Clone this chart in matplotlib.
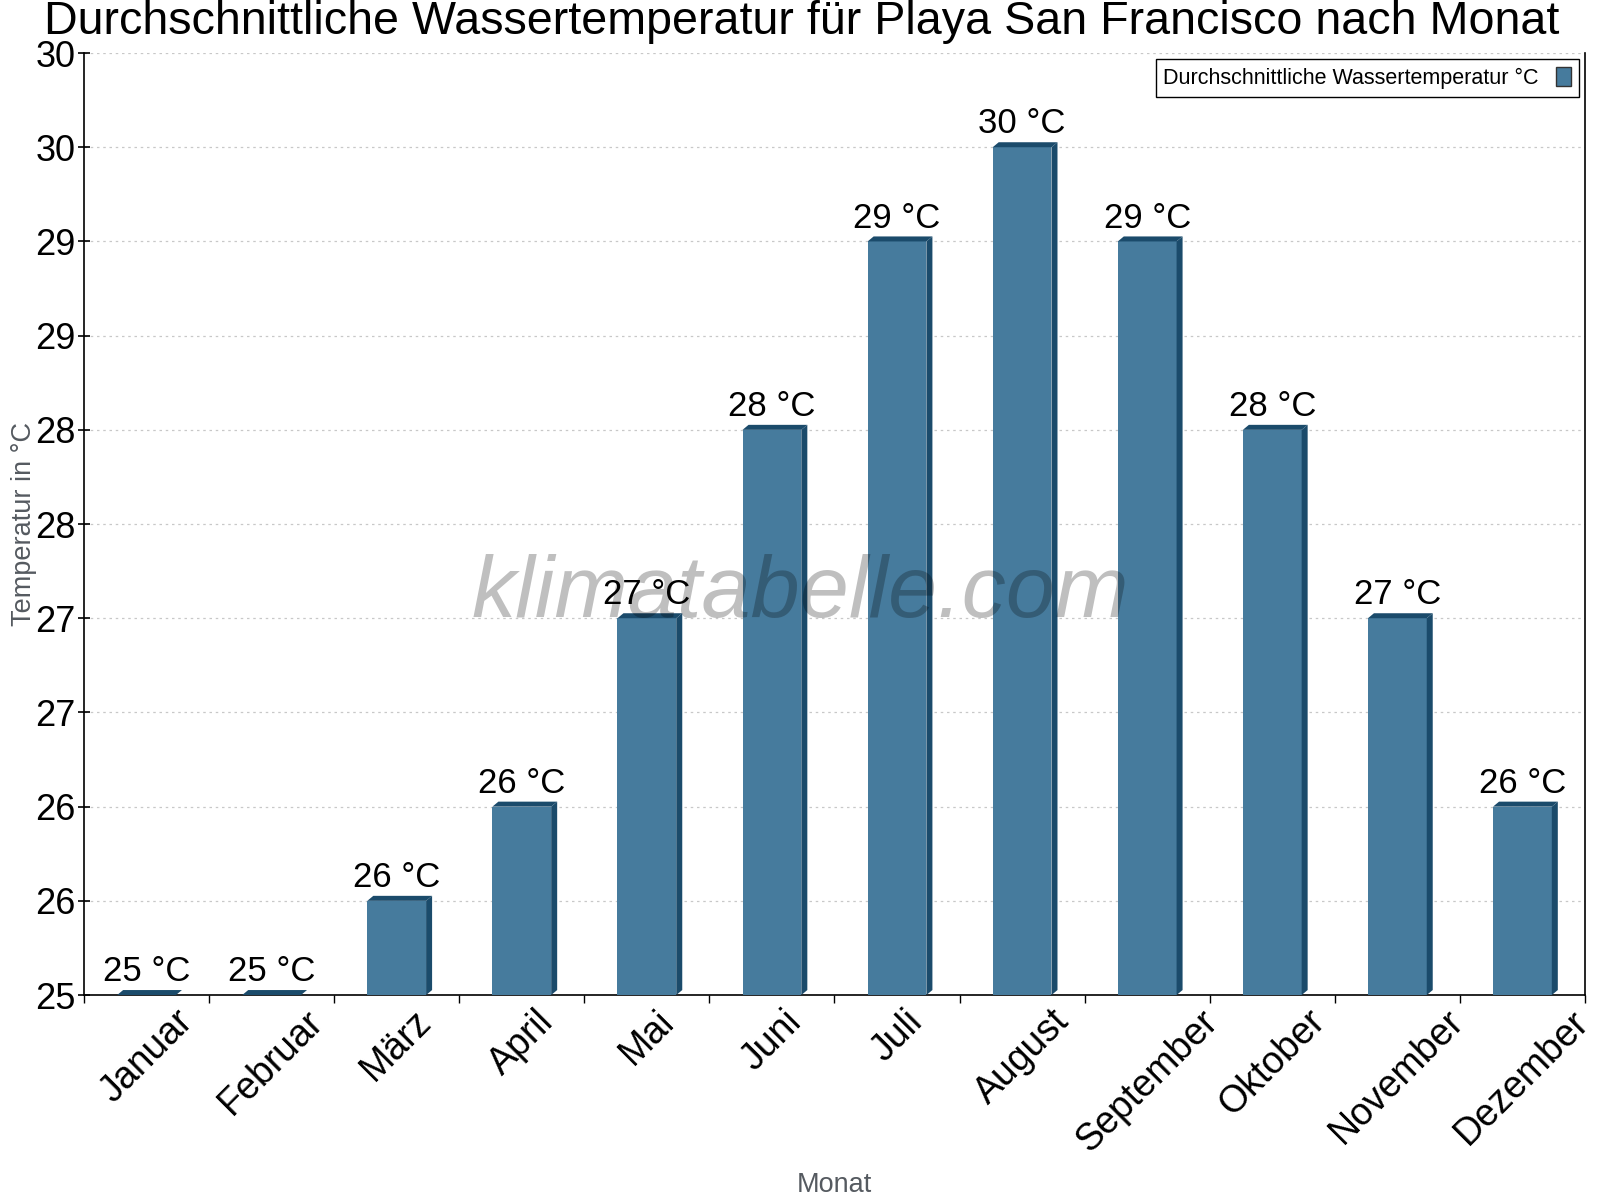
import matplotlib
matplotlib.use("Agg")
import matplotlib.pyplot as plt
from matplotlib.patches import Polygon, Patch

# data
months = ["Januar", "Februar", "März", "April", "Mai", "Juni", "Juli",
          "August", "September", "Oktober", "November", "Dezember"]
temps = [25, 25, 25.5, 26, 27, 28, 29, 29.5, 29, 28, 27, 26]
ytick_values = [25, 25.5, 26, 26.5, 27, 27.5, 28, 28.5, 29, 29.5, 30]
ytick_labels = ["25", "26", "26", "27", "27", "28", "28", "29", "29", "30", "30"]

FRONT = "#467b9d"
DARK = "#1b4b6b"
GREY = "#555a60"

plt.rcParams["font.family"] = ["Liberation Sans", "DejaVu Sans"]

fig = plt.figure(figsize=(16, 12), dpi=100)
ax = fig.add_axes([0.0525, 0.1708, 0.9381, 0.785])
ax.set_xlim(-0.5, 11.5)
ax.set_ylim(25, 30)

x = list(range(len(months)))
bar_w = 0.47
ymin = 25
ax.bar(x, [t - ymin for t in temps], bottom=ymin, width=bar_w,
       color=FRONT, zorder=3)

# 3d look: depth of about 6 px right, 5 px up
p0 = ax.transData.transform((0, 25))
p1 = ax.transData.transform((1, 26))
dx = 6 / (p1[0] - p0[0])
dy = 5 / (p1[1] - p0[1])
for xi, t in zip(x, temps):
    x0 = xi - bar_w / 2
    x1 = xi + bar_w / 2
    ax.add_patch(Polygon([(x0, t), (x1, t), (x1 + dx, t + dy), (x0 + dx, t + dy)],
                         closed=True, color=DARK, zorder=3, clip_on=False, lw=0))
    ax.add_patch(Polygon([(x1, ymin), (x1 + dx, ymin + dy), (x1 + dx, t + dy), (x1, t)],
                         closed=True, color=DARK, zorder=3, clip_on=False, lw=0))
    ax.annotate(f"{int(t + 0.5)} °C", (xi, t), xytext=(0, 10),
                textcoords="offset points", ha="center", va="baseline",
                fontsize=25, zorder=5)

ax.text(0.477, 0.425, "klimatabelle.com", transform=ax.transAxes,
        ha="center", va="center", fontsize=63.5, style="italic",
        color="black", alpha=0.25, zorder=4)

ax.set_yticks(ytick_values, ytick_labels)
ax.tick_params(axis="y", direction="inout", length=8, width=1.2,
               labelsize=26, pad=2)
ax.set_xticks(x, months, rotation=45, ha="center", va="top")
ax.tick_params(axis="x", which="major", length=0, labelsize=27, pad=6)
ax.set_xticks([i - 0.5 for i in range(len(months) + 1)], minor=True)
ax.tick_params(axis="x", which="minor", length=6, width=1.0, direction="out")

ax.yaxis.grid(True, linestyle=(0, (2, 3)), color="#c8c8c8", linewidth=0.9)
ax.set_axisbelow(True)

ax.spines["top"].set_visible(False)
for s in ["left", "bottom", "right"]:
    ax.spines[s].set_linewidth(1.2)

ax.set_ylabel("Temperatur in °C", fontsize=19.5, color=GREY)
ax.yaxis.set_label_coords(-0.031, 0.5)
ax.set_xlabel("Monat", fontsize=19.5, color=GREY)
ax.xaxis.set_label_coords(0.5, -0.188)

leg = ax.legend(handles=[Patch(facecolor=FRONT, edgecolor="#333333",
                               label="Durchschnittliche Wassertemperatur °C")],
                loc="upper right", markerfirst=False, fancybox=False,
                framealpha=1, edgecolor="black", fontsize=15.5,
                handlelength=0.7, handleheight=1.0, borderaxespad=0.3,
                borderpad=0.35, handletextpad=0.8)
leg.get_frame().set_linewidth(1.0)

fig.text(0.501, 0.982, "Durchschnittliche Wassertemperatur für Playa San Francisco nach Monat",
         ha="center", va="center", fontsize=33.6)

fig.savefig("out.png", dpi=100)
